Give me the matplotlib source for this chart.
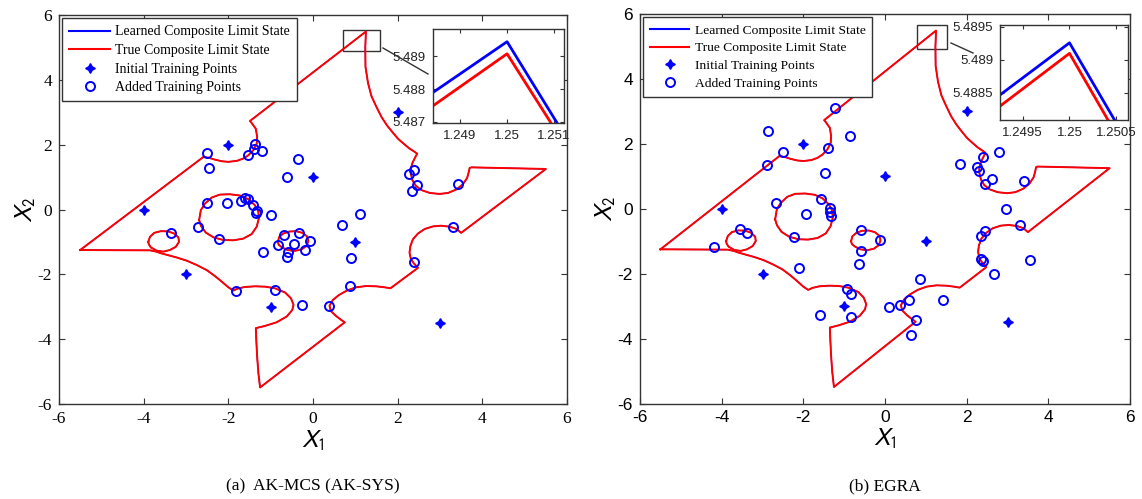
import numpy as np
import matplotlib.pyplot as plt
from matplotlib.patches import Rectangle
from matplotlib.lines import Line2D

plt.rcParams['mathtext.fontset'] = 'stixsans'
plt.rcParams['axes.unicode_minus'] = False

# limite de estado compuesto (trazado del grafico)
boundary_x = [-5.50, -2.59, -2.47, -2.32, -2.16, -2.00, -1.80, -1.65, -1.53, -1.41, -1.33, -1.32,
              -1.35, -1.45, -1.49, 1.25, 1.235, 1.24, 1.30, 1.38, 1.50, 1.62, 1.75, 1.88, 2.01,
              2.15, 2.28, 2.40, 2.46, 2.41, 2.35, 2.31, 2.31, 2.35, 2.43, 2.56, 2.76, 2.99, 3.19,
              3.39, 3.54, 3.64, 3.68, 3.70, 3.74, 5.50, 3.50, 3.39, 3.23, 3.03, 2.84, 2.64, 2.48,
              2.36, 2.30, 2.28, 2.31, 2.38, 2.48, 1.83, 1.69, 1.50, 1.26, 1.02, 0.80, 0.61, 0.47,
              0.39, 0.42, 0.54, 0.67, 0.75, -1.25, -1.29, -1.32, -1.34, -1.35, -1.13, -0.86, -0.62,
              -0.49, -0.46, -0.52, -0.66, -0.90, -1.13, -1.37, -1.61, -1.78, -1.88, -2.00, -2.16,
              -2.32, -2.51, -2.75, -2.98, -3.22, -3.42, -3.59, -3.70, -3.85, -5.50]
boundary_y = [-1.25, 1.62, 1.60, 1.54, 1.49, 1.47, 1.50, 1.57, 1.67, 1.83, 2.03, 2.24,
              2.49, 2.67, 2.73, 5.489, 5.00, 4.40, 3.90, 3.50, 3.16, 2.85, 2.59, 2.38, 2.18,
              2.02, 1.88, 1.78, 1.72, 1.60, 1.44, 1.26, 1.11, 0.90, 0.73, 0.60, 0.51, 0.48, 0.51,
              0.62, 0.78, 0.97, 1.16, 1.28, 1.30, 1.25, -0.72, -0.60, -0.53, -0.50, -0.52, -0.60, -0.74,
              -0.92, -1.13, -1.33, -1.52, -1.66, -1.80, -2.43, -2.40, -2.37, -2.36, -2.40, -2.50, -2.64, -2.79,
              -2.97, -3.13, -3.28, -3.41, -3.48, -5.49, -5.05, -4.53, -4.02, -3.66, -3.59, -3.48, -3.30,
              -3.10, -2.94, -2.74, -2.56, -2.43, -2.38, -2.37, -2.39, -2.44, -2.50, -2.40, -2.22,
              -2.05, -1.87, -1.71, -1.58, -1.48, -1.41, -1.35, -1.30, -1.26, -1.25]

loop_x = [-3.89, -3.85, -3.75, -3.59, -3.42, -3.28, -3.18, -3.165, -3.24, -3.38, -3.535, -3.69, -3.83, -3.88]
loop_y = [-0.995, -0.84, -0.72, -0.667, -0.677, -0.74, -0.86, -0.995, -1.15, -1.25, -1.30, -1.27, -1.17, -1.07]

big_ell_x = [-2.69, -2.65, -2.55, -2.39, -2.20, -1.96, -1.72, -1.53, -1.37, -1.29, -1.28, -1.33,
             -1.45, -1.65, -1.88, -2.12, -2.35, -2.535, -2.645]
big_ell_y = [-0.33, -0.02, 0.185, 0.37, 0.46, 0.47, 0.43, 0.32, 0.13, -0.07, -0.28, -0.53,
             -0.76, -0.90, -0.95, -0.94, -0.86, -0.71, -0.51]

small_ell_x = [-0.83, -0.80, -0.70, -0.56, -0.40, -0.25, -0.14, -0.11, -0.15, -0.27, -0.44, -0.60, -0.73, -0.81]
small_ell_y = [-1.00, -0.85, -0.74, -0.68, -0.67, -0.72, -0.83, -0.97, -1.12, -1.23, -1.28, -1.25, -1.17, -1.09]

# puntos iniciales (iguales en ambos paneles)
init_x = [-4, -2, -3, -1, 0, 1, 2, 3]
init_y = [0, 2, -2, -3, 1, -1, 3, -3.5]

# puntos agregados, AK-MCS (AK-SYS)
added_a_x = [-2.51, -2.45, -1.37, -1.39, -1.54, -1.20, -0.35, -0.61, -2.51, -2.02, -1.69, -1.61,
             -1.54, -1.41, -1.33, -1.35, -1.00, -2.72, -2.21, -3.35, -0.69, -0.33, -0.83, -0.46,
             -0.19, -0.60, -0.62, -1.17, -0.08, -1.83, -0.90, -0.27, 2.27, 2.39, 2.46, 2.34,
             3.43, 1.10, 0.68, 0.90, 3.31, 2.38, 0.88, 0.37]
added_a_y = [1.74, 1.29, 2.03, 1.86, 1.69, 1.79, 1.57, 1.01, 0.21, 0.21, 0.26, 0.37,
             0.31, 0.13, -0.05, -0.12, -0.17, -0.53, -0.91, -0.74, -0.79, -0.71, -1.08, -1.05,
             -1.25, -1.30, -1.46, -1.30, -0.96, -2.51, -2.48, -2.94, 1.11, 1.21, 0.76, 0.56,
             0.80, -0.13, -0.47, -1.50, -0.53, -1.63, -2.35, -2.97]

# puntos agregados, EGRA
added_b_x = [-1.23, -2.87, -0.85, -2.51, -1.39, -2.90, -1.48, -2.66, -1.57, -1.93, -1.35, -1.34,
             -1.33, -3.56, -3.38, -4.19, -2.23, -0.58, -0.12, -0.58, -0.63, -2.11, 1.84, 2.26,
             2.29, 2.40, 2.78, 2.63, 2.45, 3.41, 2.96, 3.30, 2.45, 2.36, 2.36, 2.40, 3.54,
             2.67, 0.85, -0.92, -0.83, 1.43, 0.58, 0.36, 0.11, -1.59, -0.83, 0.76, 0.63]
added_b_y = [3.11, 2.41, 2.24, 1.75, 1.88, 1.34, 1.11, 0.18, 0.31, -0.17, 0.01, -0.09,
             -0.23, -0.63, -0.75, -1.18, -0.87, -0.66, -0.95, -1.30, -1.69, -1.82, 1.38, 1.29,
             1.16, 1.60, 1.74, 0.93, 0.75, 0.85, 0.00, -0.51, -0.70, -0.85, -1.56, -1.62, -1.57,
             -2.00, -2.15, -2.46, -2.62, -2.82, -2.80, -2.97, -3.03, -3.26, -3.33, -3.44, -3.90]

# recuadros de zoom (x0, x1, y0, y1)
zoom_box_a = [0.70, 1.58, 4.88, 5.54]
zoom_box_b = [0.78, 1.52, 4.92, 5.66]

# detalle del pico
inset_a_red_x = [1.24842, 1.25, 1.25093]
inset_a_red_y = [5.48748, 5.48908, 5.48697]
inset_a_blue_x = [1.24842, 1.25, 1.25106]
inset_a_blue_y = [5.48789, 5.48945, 5.48697]
inset_a_xticks = [1.249, 1.25, 1.251]
inset_a_xlabels = ['1.249', '1.25', '1.251']
inset_a_yticks = [5.487, 5.488, 5.489]
inset_a_ylabels = ['5.487', '5.488', '5.489']

inset_b_red_x = [1.24926, 1.25, 1.25041]
inset_b_red_y = [5.48830, 5.48910, 5.48809]
inset_b_blue_x = [1.24926, 1.25, 1.25048]
inset_b_blue_y = [5.48847, 5.48926, 5.48809]
inset_b_xticks = [1.2495, 1.25, 1.2505]
inset_b_xlabels = ['1.2495', '1.25', '1.2505']
inset_b_yticks = [5.4885, 5.489, 5.4895]
inset_b_ylabels = ['5.4885', '5.489', '5.4895']

main_ticks = [-6, -4, -2, 0, 2, 4, 6]
legend_labels = ['Learned Composite Limit State', 'True Composite Limit State',
                 'Initial Training Points', 'Added Training Points']

frame_color = '#333333'
W, H = 1142, 499


def closed(xs, ys):
    return xs + xs[:1], ys + ys[:1]


def draw_panel(ax, added_x, added_y, box, tick_family, legend_size):
    curves = [(boundary_x, boundary_y), closed(loop_x, loop_y),
              closed(big_ell_x, big_ell_y), closed(small_ell_x, small_ell_y)]
    for cx, cy in curves:
        ax.plot(cx, cy, color='blue', lw=0.9)
    for cx, cy in curves:
        ax.plot(cx, cy, color='red', lw=1.4)
    p_init, = ax.plot(init_x, init_y, ls='none', marker=(4, 1, 0), ms=7, color='blue')
    p_add, = ax.plot(added_x, added_y, ls='none', marker='o', ms=6.5, mfc='none',
                     mec='blue', mew=1.4)

    ax.add_patch(Rectangle((box[0], box[2]), box[1] - box[0], box[3] - box[2],
                           fill=False, ec=frame_color, lw=1.0))

    ax.set_xlim(-6, 6)
    ax.set_ylim(-6, 6)
    ax.set_xticks(main_ticks)
    ax.set_yticks(main_ticks)
    ax.tick_params(direction='in', top=True, right=True, length=4, width=0.8,
                   labelsize=12.5, colors=frame_color, labelcolor='black', pad=5)
    for lab in ax.get_xticklabels() + ax.get_yticklabels():
        lab.set_family(tick_family)
    for s in ax.spines.values():
        s.set_color(frame_color)
        s.set_linewidth(1.0)

    ax.set_xlabel(r'$X_{\mathit{1}}$', fontsize=17, labelpad=1)
    ax.set_ylabel(r'$X_2$', fontsize=17, labelpad=0)

    handles = [Line2D([], [], color='blue', lw=1.5), Line2D([], [], color='red', lw=1.5),
               p_init, p_add]
    leg = ax.legend(handles, legend_labels,
                    loc='upper left', prop={'family': 'Liberation Serif', 'size': legend_size},
                    fancybox=False, framealpha=1, edgecolor=frame_color,
                    handlelength=2.9, handletextpad=0.4, labelspacing=0.4,
                    borderpad=0.5, borderaxespad=0.25)
    leg.get_frame().set_linewidth(1.0)


def draw_inset(rect, rx, ry, bx, by, xticks, xlabels, yticks, ylabels):
    ins = fig.add_axes(rect)
    ins.plot(bx, by, color='blue', lw=2.0)
    ins.plot(rx, ry, color='red', lw=2.0)
    ins.set_xticks(xticks)
    ins.set_xticklabels(xlabels)
    ins.set_yticks(yticks)
    ins.set_yticklabels(ylabels)
    ins.tick_params(direction='in', top=True, right=True, length=3, width=0.8,
                    labelsize=9.5, colors=frame_color, labelcolor='#222222', pad=5)
    for lab in ins.get_xticklabels() + ins.get_yticklabels():
        lab.set_family('Liberation Sans')
    for s in ins.spines.values():
        s.set_color(frame_color)
        s.set_linewidth(1.0)
    return ins


fig = plt.figure(figsize=(W / 100, H / 100), dpi=100)

ax_a = fig.add_axes([59 / W, 1 - 404 / H, 508 / W, 389 / H])
draw_panel(ax_a, added_a_x, added_a_y, zoom_box_a, 'Liberation Serif', 10)

ax_b = fig.add_axes([640 / W, 1 - 403.5 / H, 490 / W, 389.5 / H])
draw_panel(ax_b, added_b_x, added_b_y, zoom_box_b, 'Liberation Sans', 9.7)

ins_a = draw_inset([432.7 / W, 1 - 122.7 / H, 131.3 / W, 93.4 / H],
                   inset_a_red_x, inset_a_red_y, inset_a_blue_x, inset_a_blue_y,
                   inset_a_xticks, inset_a_xlabels, inset_a_yticks, inset_a_ylabels)
ins_a.set_xlim(1.24842, 1.25121)
ins_a.set_ylim(5.48697, 5.48983)

ins_b = draw_inset([1000 / W, 1 - 120 / H, 127.7 / W, 95 / H],
                   inset_b_red_x, inset_b_red_y, inset_b_blue_x, inset_b_blue_y,
                   inset_b_xticks, inset_b_xlabels, inset_b_yticks, inset_b_ylabels)
ins_b.set_xlim(1.24926, 1.25062)
ins_b.set_ylim(5.48809, 5.48953)

# lineas de conexion al detalle
fig.add_artist(Line2D([383 / W, 428 / W], [1 - 48 / H, 1 - 74 / H], color=frame_color, lw=1.0))
fig.add_artist(Line2D([951 / W, 973 / W], [1 - 43 / H, 1 - 53 / H], color=frame_color, lw=1.0))

fig.text(313 / W, 1 - 486 / H, '(a)  AK-MCS (AK-SYS)', ha='center', va='center',
         family='Liberation Serif', fontsize=12.5)
fig.text(885 / W, 1 - 486 / H, '(b) EGRA', ha='center', va='center',
         family='Liberation Serif', fontsize=12.5)

fig.savefig('out.png', dpi=100)
